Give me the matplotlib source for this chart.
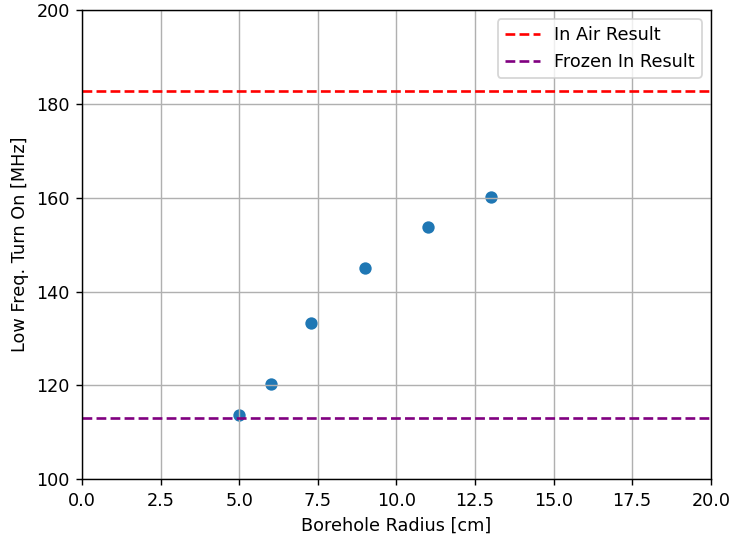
import matplotlib
matplotlib.use("Agg")
import matplotlib.pyplot as plt

# borehole radius [cm] vs low frequency turn on [MHz]
radius = [5, 6, 7.3, 9, 11, 13]
turn_on = [113.7, 120.2, 133.2, 145.0, 153.8, 160.2]

in_air = 182.7
frozen_in = 113.0

# same pixel size as the reference, drawn at a higher dpi so text is bigger
dpi = 127
fig = plt.figure(figsize=(732 / dpi, 539 / dpi), dpi=dpi)
ax = fig.add_subplot(111)
ax.scatter(radius, turn_on)
ax.axhline(in_air, color="red", linestyle="--", label="In Air Result")
ax.axhline(frozen_in, color="purple", linestyle="--", label="Frozen In Result")
ax.set_xlim(0, 20)
ax.set_ylim(100, 200)
ax.set_xlabel("Borehole Radius [cm]")
ax.set_ylabel("Low Freq. Turn On [MHz]")
ax.grid(True)
ax.legend(loc="upper right")
fig.subplots_adjust(left=0.112, right=0.971, top=0.981, bottom=0.111)
fig.savefig("out.png", dpi=dpi)
